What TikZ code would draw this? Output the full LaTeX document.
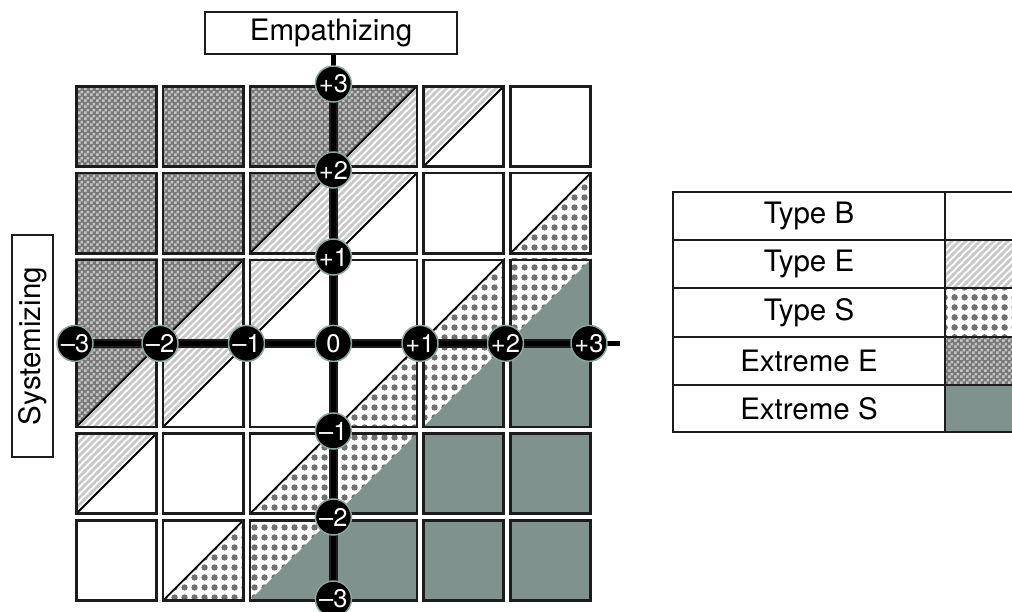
\documentclass[tikz,border=0pt]{standalone}
\usepackage{fontspec}
\setmainfont{TeX Gyre Heros}
\usetikzlibrary{patterns}
\definecolor{extS}{RGB}{127,146,141}
\definecolor{chkbase}{RGB}{120,120,120}
\definecolor{chklight}{RGB}{196,196,196}
\definecolor{dotc}{RGB}{112,112,112}
\definecolor{hatchc}{RGB}{200,200,200}
\definecolor{ringc}{RGB}{140,165,160}
\definecolor{edgec}{RGB}{28,28,28}
\pgfdeclarepatternformonly{xchecker}{\pgfpointorigin}{\pgfpoint{6pt}{6pt}}{\pgfpoint{6pt}{6pt}}{%
  \pgfpathrectangle{\pgfpointorigin}{\pgfpoint{3pt}{3pt}}%
  \pgfpathrectangle{\pgfpoint{3pt}{3pt}}{\pgfpoint{3pt}{3pt}}%
  \pgfusepath{fill}}
\pgfdeclarepatternformonly{xdots}{\pgfpointorigin}{\pgfpoint{10pt}{10pt}}{\pgfpoint{10pt}{10pt}}{%
  \pgfpathcircle{\pgfpoint{5pt}{5pt}}{3.5pt}\pgfusepath{fill}}
\pgfdeclarepatternformonly{xhatch}{\pgfpoint{-2pt}{-2pt}}{\pgfpoint{9pt}{9pt}}{\pgfpoint{7pt}{7pt}}{%
  \pgfsetlinewidth{2.8pt}\pgfpathmoveto{\pgfpoint{-2pt}{-2pt}}\pgfpathlineto{\pgfpoint{9pt}{9pt}}\pgfusepath{stroke}}
\pgfdeclarelayer{cells}
\pgfdeclarelayer{axes}
\pgfsetlayers{cells,axes,main}
\tikzset{
  extE/.style={fill=chkbase, postaction={pattern=xchecker, pattern color=chklight}},
  typE/.style={pattern=xhatch, pattern color=hatchc},
  typS/.style={pattern=xdots, pattern color=dotc},
  extSfill/.style={fill=extS},
  diag/.style={line width=1.8pt, black},
  gapline/.style={white, line width=3.8pt},
  cellb/.style={draw=edgec, line width=2.6pt},
  axisline/.style={line width=5.5pt, black},
  tick/.style={circle, fill=black, draw=ringc, line width=1.5pt, minimum size=36pt,
    inner sep=0pt, text=white, font=\fontsize{25.5}{25.5}\selectfont},
  labelbox/.style={draw=edgec, line width=1.6pt, fill=white, inner sep=0pt},
  tabline/.style={draw=edgec, line width=1.8pt},
  legtext/.style={inner sep=0pt}
}
\begin{document}
\begin{tikzpicture}[x=1pt, y=-1pt, font=\fontsize{29.5}{34}\selectfont]
\useasboundingbox (0,0) rectangle (1012,612);

% ---------- grid of cells ----------
\begin{pgfonlayer}{cells}
\begin{scope}[shift={(333.4,343.4)}, x=86.8pt, y=86.8pt]
  \path[extE] (-3,-1) -- (1,3) -- (-3,3) -- cycle;
  \path[typE] (-3,-2) -- (-3,-1) -- (1,3) -- (2,3) -- cycle;
  \path[typS] (-2,-3) -- (3,2) -- (3,1) -- (-1,-3) -- cycle;
  \path[extSfill] (-1,-3) -- (3,1) -- (3,-3) -- cycle;
  \draw[diag] (-3,-1) -- (1,3);
  \draw[diag] (-3,-2) -- (2,3);
  \draw[diag] (-2,-3) -- (3,2);
  \foreach \i in {-3,...,3} {
    \draw[gapline] (\i,-3.06) -- (\i,3.06);
    \draw[gapline] (-3.06,\i) -- (3.06,\i);
  }
  \foreach \i in {-3,...,2} {
    \foreach \j in {-3,...,2} {
      \draw[cellb] (\i+0.037,\j+0.037) rectangle (\i+0.963,\j+0.963);
    }
  }
\end{scope}
\end{pgfonlayer}

% ---------- axis labels ----------
\node[labelbox, minimum width=252pt, minimum height=42pt] (emp) at (331,33) {Empathizing};
\node[labelbox, rotate=90, minimum width=222pt, minimum height=41pt] (sys) at (32.5,346) {Systemizing};

% ---------- tick circles ----------
\node[tick] (o)   at (333.4,343.4) {0};
\node[tick] (hm3) at (75,343.4)    {\textendash3};
\node[tick] (hm2) at (160,343.4)   {\textendash2};
\node[tick] (hm1) at (246.5,343.4) {\textendash1};
\node[tick] (hp1) at (420,343.4)   {+1};
\node[tick] (hp2) at (505.5,343.4) {+2};
\node[tick] (hp3) at (589,343.4)   {+3};
\node[tick] (vp3) at (333.4,84)    {+3};
\node[tick] (vp2) at (333.4,170)   {+2};
\node[tick] (vp1) at (333.4,257)   {+1};
\node[tick] (vm1) at (333.4,431)   {\textendash1};
\node[tick] (vm2) at (333.4,517)   {\textendash2};
\node[tick] (vm3) at (333.4,599)   {\textendash3};
\coordinate (hend) at (620,343.4);

\begin{pgfonlayer}{axes}
  \draw[axisline] (hm3.center) -- (hend);
  \draw[axisline] (vp3.center |- emp.south) -- (vm3.center);
\end{pgfonlayer}

% ---------- legend ----------
\path[typE] (945,240) rectangle (1030,288);
\path[typS] (945,288) rectangle (1030,337);
\path[extE] (945,337) rectangle (1030,385);
\path[extSfill] (945,385) rectangle (1030,432);
\draw[tabline] (1030,192) -- (673,192) -- (673,432) -- (1030,432);
\draw[tabline] (673,240) -- (1030,240);
\draw[tabline] (673,288) -- (1030,288);
\draw[tabline] (673,337) -- (1030,337);
\draw[tabline] (673,385) -- (1030,385);
\draw[tabline] (945,192) -- (945,432);
\node[legtext] (lB)  at (809,216)   {Type B};
\node[legtext] (lE)  at (809,264)   {Type E};
\node[legtext] (lS)  at (809,312.5) {Type S};
\node[legtext] (lXE) at (809,361)   {Extreme E};
\node[legtext] (lXS) at (809,408.5) {Extreme S};
\end{tikzpicture}
\end{document}
